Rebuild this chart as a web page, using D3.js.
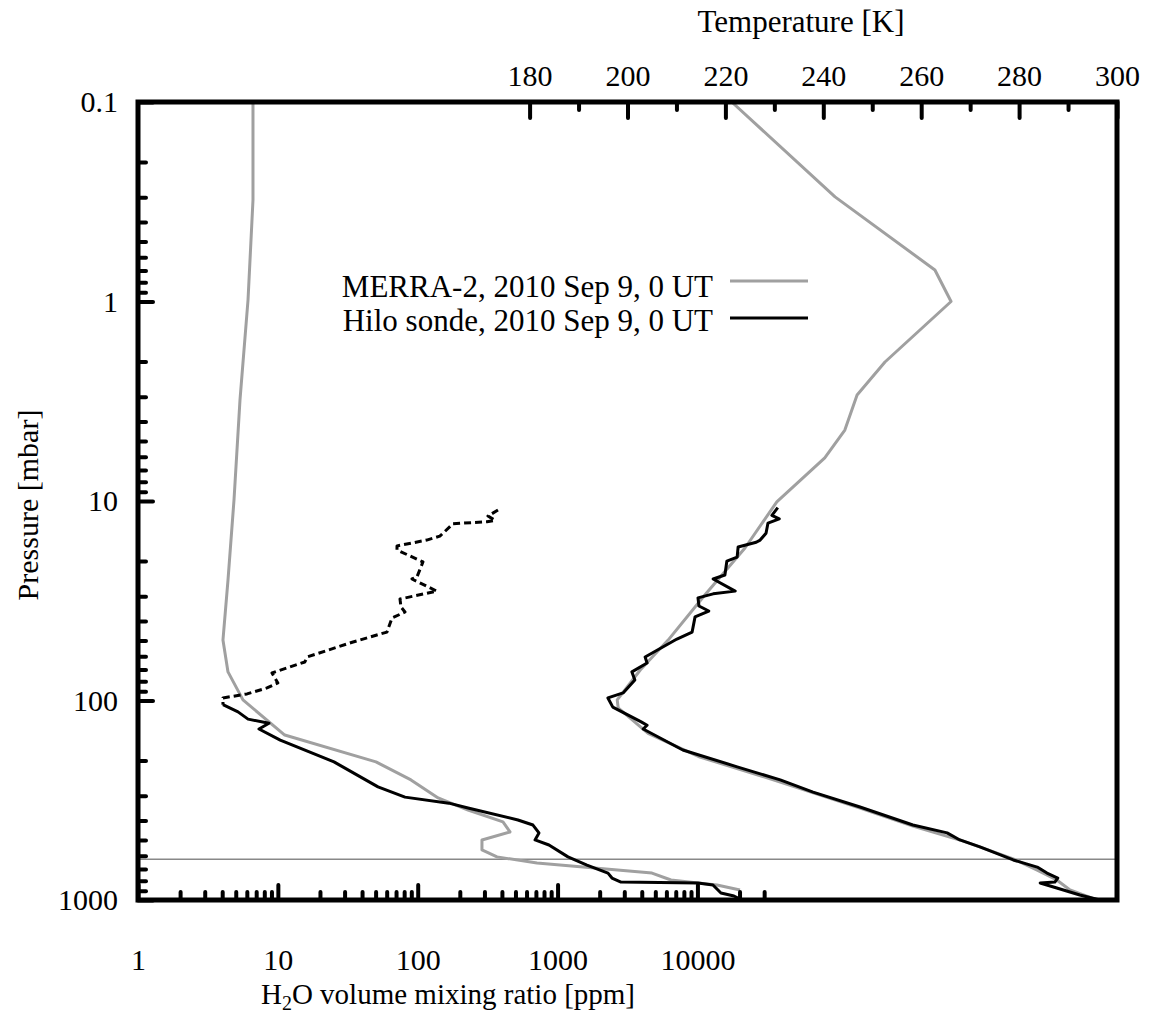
<!DOCTYPE html>
<html>
<head>
<meta charset="utf-8">
<script src="https://cdn.jsdelivr.net/npm/d3@7"></script>
<style>
  body { margin: 0; background: #fff; }
  text { font-family: "Liberation Serif", "Times New Roman", serif; }
</style>
</head>
<body>
<script>
// MERRA-2 temperature profile (pressure in mbar, T in K)
let merraP = [0.1, 0.299, 0.695, 1.0, 2.01, 2.94, 4.41, 6.08, 10.1, 17.2, 29.6, 49.8, 70.3, 99.3, 109, 146, 192, 256, 346, 426, 500, 622, 708, 794, 891, 1000];
let merraT = [221.3, 242.4, 262.8, 266.1, 252.6, 246.9, 244.4, 240.3, 230.5, 224.0, 215.8, 208.3, 202.6, 197.9, 198.1, 204.2, 214.8, 231.2, 247.5, 258.3, 267.9, 278.8, 283.7, 287.7, 290.4, 295.9];

// MERRA-2 water vapour (ppm)
let merraWP = [0.1, 0.310, 0.98, 3.12, 9.83, 24.9, 49.8, 71.9, 99.3, 149, 203, 250, 308, 354, 406, 456, 500, 561, 608, 653, 733, 794, 822, 841, 891];
let merraW = [6.64, 6.64, 6.12, 5.36, 4.86, 4.40, 4.05, 4.40, 5.63, 11.2, 50.3, 89.5, 140, 229, 407, 457, 288, 288, 369, 713, 4732, 6471, 10090, 13800, 20150];

// Hilo sonde temperature
let sondeTP = [10.8, 11.8, 12.3, 12.9, 14.5, 15.7, 16.1, 17.0, 19.1, 20.0, 23.5, 24.6, 28.3, 29.2, 30.6, 33.6, 35.6, 38.1, 45.4, 49.2, 60.5, 64.9, 71.9, 78.9, 91.6, 97.1, 108, 128, 133, 139, 177, 215, 250, 288, 342, 421, 461, 500, 542, 630, 684, 733, 776, 813, 822, 871, 944, 1000];
let sondeT = [230.7, 229.5, 231.0, 228.7, 228.3, 227.1, 226.3, 222.6, 222.4, 220.3, 219.9, 217.5, 222.0, 217.5, 214.4, 214.6, 216.6, 213.8, 213.2, 210.1, 203.6, 204.0, 200.9, 201.5, 199.1, 196.0, 197.0, 202.8, 204.0, 203.2, 211.3, 222.4, 231.2, 237.9, 247.5, 258.3, 265.3, 267.9, 272.0, 278.8, 283.7, 285.7, 287.9, 287.3, 284.3, 287.7, 292.4, 296.5];

// Hilo sonde water vapour, troposphere (solid)
let sondeWP = [105, 114, 124, 130, 139, 158, 203, 271, 305, 327, 346, 397, 421, 461, 500, 530, 608, 668, 733, 776, 813, 822, 841, 923, 955, 977];
let sondeW = [4.05, 5.19, 6.12, 8.64, 7.33, 10.4, 25.2, 52.0, 81.1, 167, 229, 521, 667, 736, 690, 868, 1187, 1622, 2294, 2449, 2840, 10090, 12910, 14730, 18250, 19500];

// Hilo sonde water vapour, stratosphere (dashed)
let stratP = [11.1, 11.9, 12.5, 12.7, 13.0, 15.0, 15.7, 16.8, 17.6, 20.2, 24.0, 24.6, 28.3, 31.0, 34.0, 36.0, 38.6, 45.4, 50.9, 60.5, 64.1, 72.8, 81.7, 86.5, 92.7, 97.1, 105];
let stratW = [375, 318, 357, 313, 179, 144, 116, 71.1, 71.1, 109, 98.8, 91.0, 137, 74.7, 75.9, 81.1, 65.5, 60.3, 34.5, 16.2, 15.6, 9.08, 10.0, 8.36, 6.02, 4.05, 4.05];

let summitP = 625;

let pLabels = [0.1, 1, 10, 100, 1000];
let tLabels = [180, 200, 220, 240, 260, 280, 300];
let tMinor = [190, 210, 230, 250, 270, 290];
let wLabels = [1, 10, 100, 1000, 10000];

let legendNames = ['MERRA-2, 2010 Sep 9, 0 UT', 'Hilo sonde, 2010 Sep 9, 0 UT'];
let legendColors = ['#a0a0a0', '#000'];

let w = 1149, h = 1015,
  plotL = 138, plotR = 1117, plotT = 102, plotB = 900;

let y = d3.scaleLog().domain([0.1, 1000]).range([plotT, plotB]);
let xW = d3.scaleLog().domain([1, 1e7]).range([plotL, plotR]);
let xT = d3.scaleLinear().domain([100, 300]).range([plotL, plotR]);

let pMinor = [0.1, 1, 10, 100].flatMap(d => d3.range(2, 10).map(k => k * d));
let wMinor = [1, 10, 100, 1000].flatMap(d => d3.range(2, 10).map(k => k * d)).concat([20000, 30000]);

let svg = d3.select('body')
  .append('svg')
  .attr('width', w)
  .attr('height', h);

svg.append('rect').attr('width', w).attr('height', h).attr('fill', '#fff');

// summit level
svg.append('line')
  .attr('x1', plotL).attr('x2', plotR)
  .attr('y1', y(summitP)).attr('y2', y(summitP))
  .attr('stroke', '#888')
  .attr('stroke-width', 1.5);

let tLine = d3.line().x(d => xT(d[1])).y(d => y(d[0]));
let wLine = d3.line().x(d => xW(d[1])).y(d => y(d[0]));

let curves = [
  { d: tLine(d3.zip(merraP, merraT)), c: legendColors[0], dash: null },
  { d: wLine(d3.zip(merraWP, merraW)), c: legendColors[0], dash: null },
  { d: tLine(d3.zip(sondeTP, sondeT)), c: legendColors[1], dash: null },
  { d: wLine(d3.zip(sondeWP, sondeW)), c: legendColors[1], dash: null },
  { d: wLine(d3.zip(stratP, stratW)), c: legendColors[1], dash: '7,4' }
];

svg.selectAll('path.curve')
  .data(curves)
  .enter()
  .append('path')
  .attr('class', 'curve')
  .attr('d', d => d.d)
  .attr('fill', 'none')
  .attr('stroke', d => d.c)
  .attr('stroke-width', 3)
  .attr('stroke-linejoin', 'round')
  .attr('stroke-dasharray', d => d.dash);

// axes
const styleAxis = g => {
  g.select('.domain').remove();
  g.selectAll('line').attr('stroke', '#000').attr('stroke-width', 4).attr('stroke-linecap', 'round');
  g.attr('font-family', '"Liberation Serif", "Times New Roman", serif').attr('font-size', 30);
  g.selectAll('text').attr('fill', '#000');
};

svg.append('g')
  .attr('transform', `translate(${plotL},0)`)
  .call(d3.axisLeft(y).tickValues(pMinor).tickSizeInner(-8).tickSizeOuter(0).tickFormat(''))
  .call(styleAxis);
svg.append('g')
  .attr('transform', `translate(${plotL},0)`)
  .call(d3.axisLeft(y).tickValues(pLabels).tickSizeInner(-15).tickSizeOuter(0).tickPadding(20).tickFormat(d => d))
  .call(styleAxis);

svg.append('g')
  .attr('transform', `translate(0,${plotT})`)
  .call(d3.axisTop(xT).tickValues(tMinor).tickSizeInner(-8).tickSizeOuter(0).tickFormat(''))
  .call(styleAxis);
svg.append('g')
  .attr('transform', `translate(0,${plotT})`)
  .call(d3.axisTop(xT).tickValues(tLabels).tickSizeInner(-16).tickSizeOuter(0).tickPadding(16).tickFormat(d => d))
  .call(styleAxis);

svg.append('g')
  .attr('transform', `translate(0,${plotB})`)
  .call(d3.axisBottom(xW).tickValues(wMinor).tickSizeInner(-8).tickSizeOuter(0).tickFormat(''))
  .call(styleAxis);
svg.append('g')
  .attr('transform', `translate(0,${plotB})`)
  .call(d3.axisBottom(xW).tickValues(wLabels).tickSizeInner(-15).tickSizeOuter(0).tickPadding(49).tickFormat(d => d))
  .call(styleAxis);

// frame
svg.append('rect')
  .attr('x', plotL).attr('y', plotT)
  .attr('width', plotR - plotL).attr('height', plotB - plotT)
  .attr('fill', 'none')
  .attr('stroke', '#000')
  .attr('stroke-width', 5);

// titles
svg.append('text')
  .attr('x', 801).attr('y', 32)
  .attr('text-anchor', 'middle')
  .attr('font-size', 31)
  .text('Temperature [K]');

let xt = svg.append('text')
  .attr('x', 448).attr('y', 1004)
  .attr('text-anchor', 'middle')
  .attr('font-size', 29);
xt.append('tspan').text('H');
xt.append('tspan').attr('font-size', 20).attr('dy', 6).text('2');
xt.append('tspan').attr('dy', -6).text('O volume mixing ratio [ppm]');

svg.append('text')
  .attr('transform', 'translate(38,505) rotate(-90)')
  .attr('text-anchor', 'middle')
  .attr('font-size', 30)
  .text('Pressure [mbar]');

// legend
let legendY = [297, 331];
let lineY = [281, 318];
svg.selectAll('text.legend')
  .data(legendNames)
  .enter()
  .append('text')
  .attr('class', 'legend')
  .attr('x', 713)
  .attr('y', (d, i) => legendY[i])
  .attr('text-anchor', 'end')
  .attr('font-size', 31)
  .text(d => d);

svg.selectAll('line.legend')
  .data(legendColors)
  .enter()
  .append('line')
  .attr('class', 'legend')
  .attr('x1', 730).attr('x2', 808)
  .attr('y1', (d, i) => lineY[i]).attr('y2', (d, i) => lineY[i])
  .attr('stroke', d => d)
  .attr('stroke-width', 3);
</script>
</body>
</html>
